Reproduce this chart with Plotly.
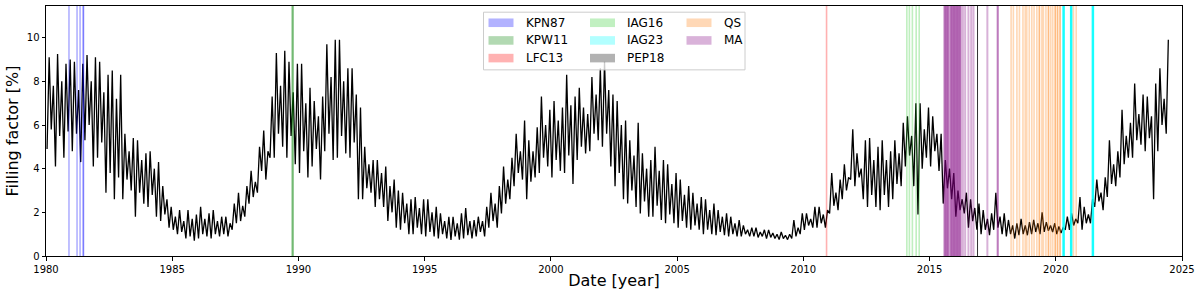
import plotly.graph_objects as go

# ---------------- data ----------------
START_YEAR = 1980.0   # first reading of the record
PER_YEAR = 6          # bimonthly readings: low and high of each two-month bin

HIGH = [
    9.1, 7.8, 9.25, 8.0, 8.8, 9.0,      # 1980
    8.9, 7.6, 8.8, 9.2, 8.0, 9.1,       # 1981
    8.9, 7.5, 8.3, 8.5, 7.2, 8.3,       # 1982
    5.6, 4.8, 5.4, 5.3, 4.4, 4.7,       # 1983
    4.8, 4.0, 4.3, 3.2, 2.6, 2.25,      # 1984
    1.8, 2.1, 1.6, 2.1, 1.7, 1.9,       # 1985
    2.25, 1.7, 1.95, 2.1, 1.6, 1.8,     # 1986
    1.8, 1.5, 2.4, 2.9, 2.3, 3.2,       # 1987
    3.9, 3.4, 5.0, 5.75, 4.8, 7.3,      # 1988
    9.3, 7.8, 9.4, 8.9, 7.5, 8.8,       # 1989
    8.8, 7.0, 7.7, 7.1, 6.4, 7.3,       # 1990
    9.7, 8.2, 9.9, 9.9, 8.0, 8.6,       # 1991
    8.6, 7.4, 6.8, 5.0, 4.2, 4.4,       # 1992
    4.4, 3.8, 4.1, 3.2, 3.5, 3.0,       # 1993
    2.9, 2.4, 2.6, 2.7, 2.2, 2.6,       # 1994
    2.6, 2.0, 2.25, 1.95, 1.6, 1.8,     # 1995
    1.8, 1.5, 1.95, 2.2, 1.6, 1.65,     # 1996
    1.8, 1.6, 2.25, 2.9, 2.4, 3.2,      # 1997
    4.1, 3.5, 4.5, 5.6, 4.8, 6.2,       # 1998
    5.3, 4.8, 5.9, 7.3, 6.0, 6.7,       # 1999
    7.1, 6.2, 6.8, 8.3, 6.9, 7.3,       # 2000
    7.7, 6.8, 6.5, 8.2, 7.4, 8.6,       # 2001
    8.9, 7.6, 7.4, 7.1, 6.0, 6.2,       # 2002
    5.3, 4.6, 6.1, 4.7, 4.0, 4.4,       # 2003
    5.0, 3.9, 4.4, 4.2, 3.3, 3.8,       # 2004
    3.5, 2.8, 3.2, 2.9, 2.4, 2.7,       # 2005
    2.6, 2.1, 2.4, 2.1, 1.8, 1.95,      # 2006
    1.8, 1.5, 1.65, 1.4, 1.2, 1.3,      # 2007
    1.3, 1.1, 1.2, 1.2, 1.05, 1.0,      # 2008
    1.1, 0.95, 1.0, 1.65, 1.3, 1.95,    # 2009
    1.95, 1.7, 2.25, 2.25, 1.9, 2.1,    # 2010
    3.8, 2.9, 3.5, 4.2, 3.6, 5.8,       # 2011
    4.7, 4.0, 5.3, 5.4, 4.4, 5.0,       # 2012
    5.3, 4.4, 4.8, 5.3, 4.7, 6.1,       # 2013
    6.4, 5.5, 7.0, 7.0, 5.8, 6.8,       # 2014
    6.4, 5.6, 5.6, 4.4, 4.0, 3.8,       # 2015
    3.0, 2.6, 2.9, 2.6, 2.2, 2.4,       # 2016
    2.1, 1.7, 1.95, 2.9, 1.8, 1.95,     # 2017
    1.65, 1.4, 1.5, 1.7, 1.4, 1.55,     # 2018
    1.65, 1.5, 2.0, 1.55, 1.4, 1.5,     # 2019
    1.35, 1.3, 1.8, 1.95, 1.7, 2.7,     # 2020
    2.25, 1.9, 2.6, 3.5, 2.9, 3.6,      # 2021
    5.3, 4.2, 4.8, 6.7, 5.5, 6.1,       # 2022
    7.9, 6.5, 7.4, 7.3, 6.4, 7.9,       # 2023
    8.6, 7.2, 9.9,                      # 2024
]
LOW = [
    4.9, 5.8, 4.1, 5.5, 4.5, 5.7,       # 1980
    4.8, 5.6, 4.3, 5.3, 6.0, 4.1,       # 1981
    4.5, 5.2, 2.9, 3.8, 2.6, 3.6,       # 1982
    2.6, 3.5, 3.0, 1.8, 2.9, 2.4,       # 1983
    2.25, 2.8, 1.8, 1.6, 1.9, 1.3,      # 1984
    1.2, 1.0, 1.1, 0.8, 0.9, 0.7,       # 1985
    0.8, 1.0, 0.9, 0.8, 1.0, 0.9,       # 1986
    1.0, 0.9, 1.2, 1.5, 1.6, 1.8,       # 1987
    2.4, 2.7, 2.9, 3.9, 3.5, 4.5,       # 1988
    4.5, 5.6, 5.0, 4.5, 5.5, 4.2,       # 1989
    3.8, 4.8, 3.6, 4.1, 4.9, 3.5,       # 1990
    4.8, 5.6, 4.4, 4.5, 5.5, 4.7,       # 1991
    4.5, 5.2, 2.6, 2.6, 3.1, 2.9,       # 1992
    2.25, 2.6, 2.25, 1.6, 2.0, 1.3,     # 1993
    1.2, 1.5, 1.0, 1.0, 1.3, 1.0,       # 1994
    0.9, 1.1, 0.9, 0.8, 1.0, 0.8,       # 1995
    0.73, 0.9, 0.75, 0.8, 0.95, 0.8,    # 1996
    0.9, 1.1, 0.9, 1.3, 1.6, 1.3,       # 1997
    1.95, 2.4, 2.6, 3.2, 3.8, 3.5,      # 1998
    2.6, 3.4, 3.6, 3.8, 4.5, 4.1,       # 1999
    3.6, 4.4, 3.9, 3.8, 4.6, 3.3,       # 2000
    4.4, 5.0, 4.7, 4.8, 5.6, 5.3,       # 2001
    5.0, 5.6, 4.1, 3.2, 3.8, 2.6,       # 2002
    2.4, 3.0, 2.25, 1.95, 2.5, 1.8,     # 2003
    1.8, 2.3, 1.65, 1.5, 1.9, 1.5,      # 2004
    1.3, 1.6, 1.3, 1.2, 1.4, 1.2,       # 2005
    1.0, 1.2, 1.0, 0.95, 1.1, 0.95,     # 2006
    0.9, 1.0, 0.9, 0.9, 1.0, 0.9,       # 2007
    0.9, 0.85, 0.9, 0.8, 0.85, 0.8,     # 2008
    0.75, 0.8, 0.75, 0.8, 0.9, 1.0,     # 2009
    1.2, 1.4, 1.3, 1.3, 1.5, 1.3,       # 2010
    1.95, 2.3, 2.1, 2.6, 3.0, 3.5,      # 2011
    3.2, 3.6, 2.6, 2.25, 2.8, 2.25,     # 2012
    2.1, 2.8, 2.25, 2.6, 3.3, 3.2,      # 2013
    4.1, 4.6, 3.2, 1.9, 4.0, 4.5,       # 2014
    4.1, 4.8, 3.9, 2.4, 3.1, 2.6,       # 2015
    1.8, 2.1, 1.95, 1.3, 1.6, 1.2,      # 2016
    1.0, 1.2, 0.95, 1.2, 1.3, 1.0,      # 2017
    0.9, 1.0, 0.8, 0.95, 1.0, 0.95,     # 2018
    1.0, 1.1, 1.0, 1.1, 1.15, 1.1,      # 2019
    1.0, 1.05, 1.2, 1.2, 1.4, 1.5,      # 2020
    1.2, 1.5, 1.5, 2.25, 2.5, 2.1,      # 2021
    2.7, 3.3, 3.2, 3.6, 4.2, 4.5,       # 2022
    4.5, 5.3, 5.1, 4.8, 5.4, 2.6,       # 2023
    4.8, 6.0, 5.6,                      # 2024
]

# observation dates (decimal years) of each campaign
KPN87 = [1980.91, 1981.23, 1981.35, 1981.48, 1981.48]
KPW11 = [1989.77]
LFC13 = [2010.92]
IAG16 = [2014.10, 2014.20, 2014.32, 2014.47, 2014.59]
IAG23 = [2020.31, 2020.61, 2021.47]
PEP18 = [2016.90]
QS = [2018.23, 2018.32, 2018.46, 2018.56, 2018.70, 2018.79, 2018.85, 2018.95,
      2019.05, 2019.14, 2019.25, 2019.35, 2019.35, 2019.45, 2019.51, 2019.61,
      2019.71, 2019.71, 2019.80, 2019.88, 2019.98, 2019.98, 2020.07, 2020.07,
      2020.17, 2020.17, 2020.70, 2020.81]
MA = [2015.58, 2015.61, 2015.64, 2015.67, 2015.70, 2015.73, 2015.76,
      2015.82, 2015.85, 2015.88, 2015.91, 2015.94, 2015.97, 2016.00, 2016.03,
      2016.06, 2016.09, 2016.12, 2016.15, 2016.18, 2016.21, 2016.24,
      2016.32, 2016.41, 2016.54, 2016.65, 2016.74, 2017.29, 2017.70, 2017.70]

X_TICKS = [1980, 1985, 1990, 1995, 2000, 2005, 2010, 2015, 2020, 2025]
Y_TICKS = [0, 2, 4, 6, 8, 10]

# ---------------- styles ----------------
FONT = "DejaVu Sans"
GROUPS = [
    # name, dates, rgb, line opacity, line width
    ("KPN87", KPN87, (0, 0, 255), 0.3, 1.6),
    ("KPW11", KPW11, (0, 128, 0), 0.55, 2.2),
    ("LFC13", LFC13, (255, 0, 0), 0.3, 1.6),
    ("IAG16", IAG16, (50, 205, 50), 0.3, 1.6),
    ("IAG23", IAG23, (0, 255, 255), 0.9, 2.5),
    ("PEP18", PEP18, (0, 0, 0), 0.8, 1.0),
    ("QS", QS, (255, 127, 14), 0.3, 1.6),
    ("MA", MA, (128, 0, 128), 0.3, 2.0),
]

# ---------------- series ----------------
step = 1.0 / PER_YEAR
xs, ys = [], []
for i, (lo, hi) in enumerate(zip(LOW, HIGH)):
    t = START_YEAR + i * step
    xs += [t + step * 0.25, t + step * 0.75]
    ys += [lo, hi]

fig = go.Figure()
fig.add_trace(go.Scatter(x=xs, y=ys, mode="lines",
                         line=dict(color="black", width=1.3),
                         showlegend=False, hoverinfo="skip"))

shapes = []
for name, dates, rgb, op, w in GROUPS:
    for d in dates:
        shapes.append(dict(type="line", xref="x", yref="paper", x0=d, x1=d, y0=0, y1=1,
                           line=dict(color="rgb(%d,%d,%d)" % rgb, width=w),
                           opacity=op, layer="above"))

# ---------------- manual legend (pixel layout -> paper coords) ----------------
PL, PR, PT, PB = 46, 1182, 5.5, 256
def px(x):
    return (x - PL) / (PR - PL)
def py(y):
    return (PB - y) / (PB - PT)

shapes.append(dict(type="rect", xref="paper", yref="paper",
                   x0=px(483.5), x1=px(745), y0=py(69.5), y1=py(11.7),
                   fillcolor="rgba(255,255,255,0.8)",
                   line=dict(color="rgb(204,204,204)", width=1), layer="above"))
annotations = []
col_x = [488.5, 590, 686.5]
row_y = [22.3, 40.0, 57.7]
for k, (name, dates, rgb, op, w) in enumerate(GROUPS):
    c, r = k // 3, k % 3
    x0 = col_x[c]
    yc = row_y[r]
    shapes.append(dict(type="rect", xref="paper", yref="paper",
                       x0=px(x0), x1=px(x0 + 25), y0=py(yc + 4.3), y1=py(yc - 4.3),
                       fillcolor="rgba(%d,%d,%d,0.3)" % rgb, line=dict(width=0),
                       layer="above"))
    annotations.append(dict(xref="paper", yref="paper", x=px(x0 + 35), y=py(yc),
                            text=name, showarrow=False, xanchor="left", yanchor="middle",
                            font=dict(family=FONT, size=12, color="black")))

fig.update_layout(
    width=1200, height=294,
    margin=dict(l=PL, r=1200 - PR, t=PT, b=294 - PB),
    paper_bgcolor="white", plot_bgcolor="white",
    shapes=shapes, annotations=annotations,
    showlegend=False,
    font=dict(family=FONT, color="black"),
)
axis_common = dict(showgrid=False, zeroline=False, showline=True, linecolor="black",
                   linewidth=1, mirror=True, ticks="outside", ticklen=3.5, tickwidth=0.8,
                   tickcolor="black", tickfont=dict(family=FONT, size=10, color="black"))
fig.update_xaxes(range=[1980, 2025], tickvals=X_TICKS, ticktext=[str(v) for v in X_TICKS],
                 title=dict(text="Date [year]", font=dict(family=FONT, size=16), standoff=1),
                 automargin=False, **axis_common)
fig.update_yaxes(range=[0, 11.45], tickvals=Y_TICKS,
                 title=dict(text="Filling factor [%]", font=dict(family=FONT, size=16), standoff=4),
                 automargin=False, **axis_common)

fig.write_html("out.html", config={"displayModeBar": False},
               post_script="document.body.style.margin='0';")
